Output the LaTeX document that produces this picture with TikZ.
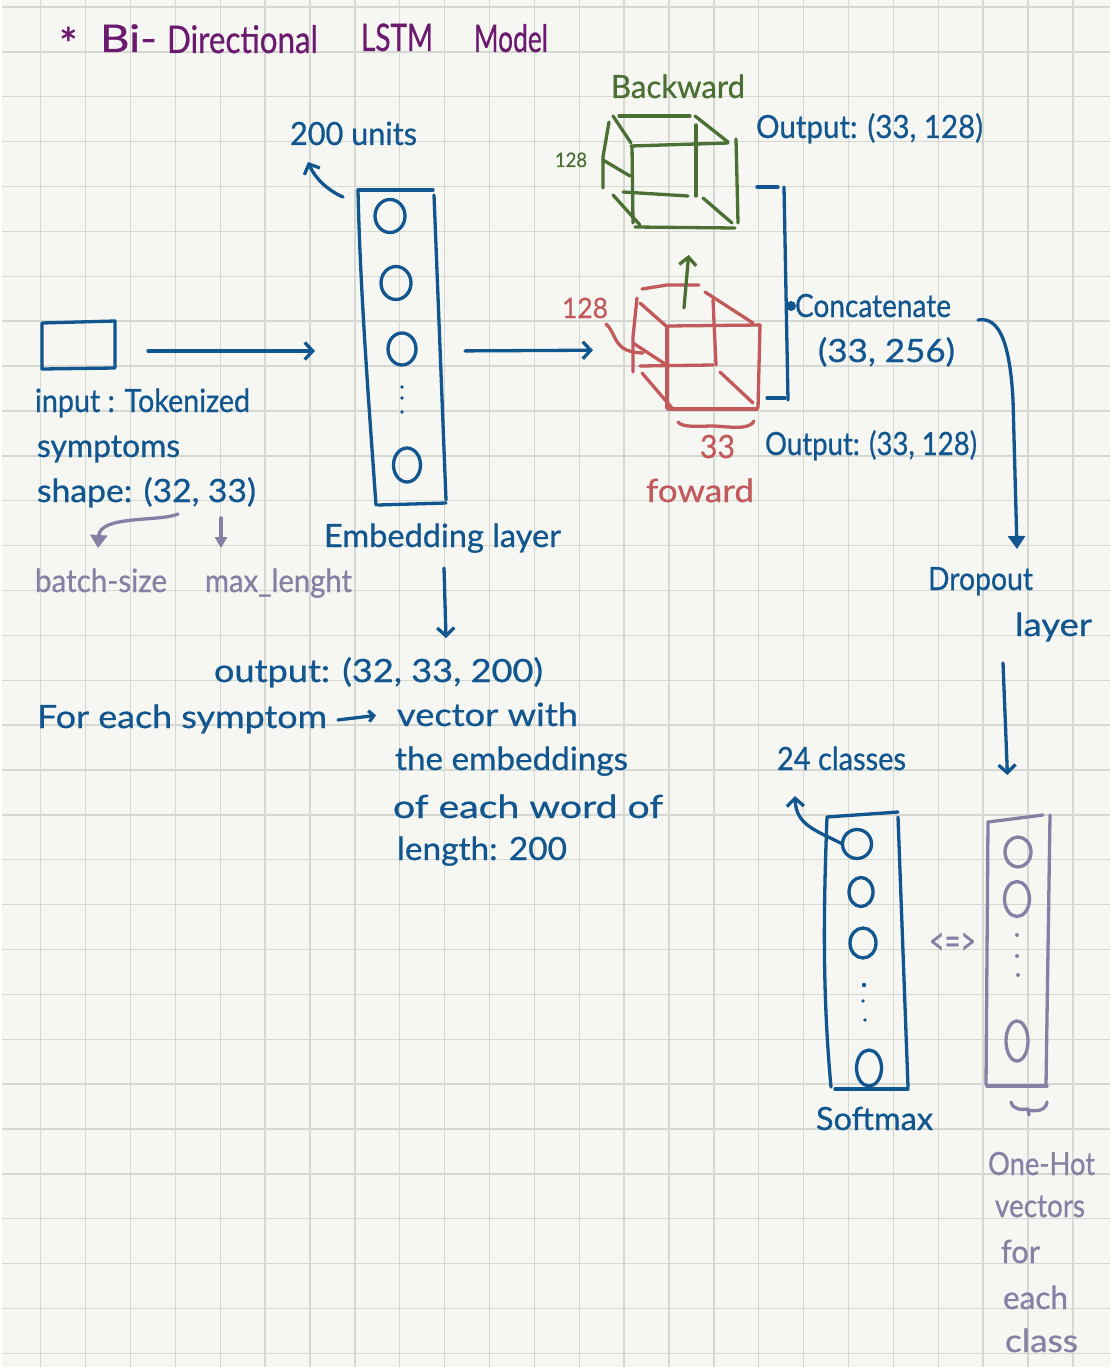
\documentclass[tikz,border=0pt]{standalone}
\usepackage{fontspec}
\usepackage{graphicx}
\setmainfont{Lato}[FakeBold=0.7]
\usetikzlibrary{arrows.meta,shapes.geometric,calc}
\definecolor{paper}{HTML}{F6F7F2}
\definecolor{gridc}{HTML}{D5D7D1}
\definecolor{inkb}{HTML}{11568F}
\definecolor{inkp}{HTML}{6B1A70}
\definecolor{inkg}{HTML}{4A7033}
\definecolor{inkr}{HTML}{C25A5C}
\definecolor{inkv}{HTML}{8581A5}
\newcommand{\rb}[2]{\resizebox{#1pt}{\height}{#2}}
\tikzset{
  gridline/.style={draw=gridc,line width=1.4pt},
  txt/.style={anchor=base west,inner sep=0pt,outer sep=0pt,font=\fontsize{32}{36}\selectfont,text=inkb},
  ttl/.style={txt,font=\fontsize{38}{42}\selectfont,text=inkp},
  gtxt/.style={txt,text=inkv},
  frame/.style={inner sep=0pt,outer sep=0pt},
  pen/.style={line width=3.3pt,line cap=round,line join=round},
  bl/.style={pen,draw=inkb},
  gr/.style={pen,draw=inkg},
  rd/.style={pen,draw=inkr},
  vi/.style={pen,draw=inkv},
  barb/.style={-{Straight Barb[length=8pt,width=17pt,line width=3.3pt]}},
  solidtip/.style={-{Triangle[length=13pt,width=17pt]}},
  neuron/.style={ellipse,inner sep=0pt,outer sep=0pt,line width=3.3pt},
}
\begin{document}
\begin{tikzpicture}[x=1pt,y=-1pt]
\useasboundingbox (0,0) rectangle (1110,1367);
\fill[white] (0,0) rectangle (1110,1367);
\fill[paper] (2,0) rectangle (1110,1367);
\foreach \k in {0,...,23} \draw[gridline] ({40.7+44.88*\k},0) -- ({40.7+44.88*\k},1367);
\foreach \k in {0,...,30} \draw[gridline] (2,{7+44.88*\k}) -- (1110,{7+44.88*\k});

% frames of the main blocks
\node[frame,minimum width=73pt,minimum height=48pt] (inp) at (78.5,346) {};
\node[frame,minimum width=88pt,minimum height=315pt] (emb) at (402,347.5) {};
\node[frame,minimum width=127pt,minimum height=124pt] (fwd) at (696.5,347) {};
\node[frame,minimum width=135pt,minimum height=112pt] (bwd) at (670.5,172) {};
\node[frame,minimum width=85pt,minimum height=277pt] (soft) at (866,951) {};
\node[frame,minimum width=64pt,minimum height=271pt] (oneh) at (1018,950.5) {};

% title
\node[ttl,font=\fontsize{44}{48}\selectfont] (star) at (59,60) {*};
\node[ttl] (tbi) at (100,52) {\rb{57}{Bi-}};
\node[ttl] (tdir) at (167,53) {\rb{151}{Directional}};
\node[ttl] (tlstm) at (361,51) {\rb{72}{LSTM}};
\node[ttl] (tmodel) at (474,52) {\rb{74}{Model}};

% input
\draw[bl] (42,323) -- (115,321) -- (115,368) -- (42,369) -- cycle;
\node[txt] (t1) at (35,412) {\rb{215}{input : Tokenized}};
\node[txt] (t2) at (37,457) {\rb{143}{symptoms}};
\node[txt] (t3) at (37,502) {\rb{219}{shape: (32, 33)}};
\node[gtxt] (bsz) at (35,592) {\rb{132}{batch-size}};
\node[gtxt] (mxl) at (205,592) {\rb{147}{max\_lenght}};
\coordinate (bszS) at (178,514);
\coordinate (bszE) at (98,548);
\coordinate (mxS) at (221,518);
\coordinate (mxE) at (221,548);
\draw[vi,solidtip] (bszS) .. controls (160,522) and (100,515) .. (bszE);
\draw[vi,-{Triangle[length=11pt,width=12pt]}] (mxS) -- (mxE);

% embedding layer
\draw[bl] (358,190) -- (433,190);
\draw[bl] (358,190) .. controls (360,290) and (370,420) .. (376,505);
\draw[bl] (434,195) -- (446,500);
\draw[bl] (378,505) -- (446,503);
\node[neuron,draw=inkb,minimum width=30pt,minimum height=33pt] (e1) at (390,216) {};
\node[neuron,draw=inkb,minimum width=30pt,minimum height=33pt] (e2) at (396,283) {};
\node[neuron,draw=inkb,minimum width=28pt,minimum height=32pt] (e3) at (402,349) {};
\fill[inkb] (402,387) circle (1.8) (402,398) circle (1.8) (402,412) circle (1.8);
\node[neuron,draw=inkb,minimum width=27pt,minimum height=34pt] (e4) at (407,465) {};
\node[txt] (units) at (290,145) {\rb{127}{200 units}};
\coordinate (unS) at (343,197);
\coordinate (unE) at (308,162);
\draw[bl,barb] (unS) .. controls (327,190) and (315,178) .. (unE);
\node[txt] (embl) at (324,547) {\rb{237}{Embedding layer}};
\node[txt] (outp) at (214,682) {\rb{329}{output: (32, 33, 200)}};
\node[txt] (fe) at (37,728) {\rb{290}{For each symptom}};
\node[txt] (vw) at (397,726) {\rb{181}{vector with}};
\node[txt] (te) at (395,770) {\rb{233}{the embeddings}};
\node[txt] (ew) at (393,818) {\rb{270}{of each word of}};
\node[txt] (lg) at (397,860) {\rb{170}{length: 200}};
\coordinate (eoS) at (444,568);
\coordinate (eoE) at (446,638);
\draw[bl,barb] (eoS) -- (eoE);
\draw[bl,-{Straight Barb[length=5pt,width=11pt,line width=3.3pt]}] ([xshift=11pt,yshift=-1pt]fe.east) -- ([xshift=-21pt,yshift=-1pt]vw.west);

% connectors into layers
\draw[bl,barb,shorten <=33pt,shorten >=43pt] ([yshift=-5pt]inp.east) -- ([yshift=-3.5pt]emb.west);
\draw[bl,barb,shorten <=19pt,shorten >=40pt] ([yshift=-3.5pt]emb.east) -- ([yshift=-3pt]fwd.west);

% forward cube
\draw[rd] (642,289) -- (667,285) -- (699,285);
\draw[rd] (640,303) -- (666,326);
\draw[rd] (705,292) -- (753,323);
\draw[rd] (668,326) -- (760,325) -- (758,408);
\draw[rd] (668,409) -- (757,409);
\draw[rd] (667,327) -- (667,408);
\draw[rd] (637,298) -- (633,337) -- (633,372);
\draw[rd] (713,300) -- (716,365);
\draw[rd] (640,366) -- (713,365);
\draw[rd] (633,343) -- (665,364);
\draw[rd] (642,373) -- (672,408);
\draw[rd] (720,372) -- (753,403);
\draw[rd] (678,422) .. controls (682,428) and (700,426) .. (714,426) .. controls (730,427) and (750,430) .. (754,421);
\node[txt,text=inkr,font=\fontsize{28}{32}\selectfont] (r128) at (562,318) {\rb{46}{128}};
\draw[rd] (606,324) .. controls (618,335) and (612,352) .. (643,353);
\node[txt,text=inkr] (r33) at (700,458) {\rb{35}{33}};
\node[txt,text=inkr] (fwdl) at (646,502) {\rb{108}{foward}};
\node[txt] (ofw) at (765,455) {\rb{212}{Output: (33, 128)}};

% backward cube
\draw[gr] (619,116) -- (690,116);
\draw[gr] (613,116) -- (631,143);
\draw[gr] (695,116) -- (728,142);
\draw[gr] (631,146) -- (728,143);
\draw[gr] (736,139) -- (738,223);
\draw[gr] (632,146) -- (633,223);
\draw[gr] (635,227) -- (735,228);
\draw[gr] (609,122) -- (603,157) -- (603,188);
\draw[gr] (696,125) -- (696,196);
\draw[gr] (623,192) -- (688,196);
\draw[gr] (603,160) -- (630,176);
\draw[gr] (613,195) -- (640,225);
\draw[gr] (703,198) -- (732,223);
\node[txt,text=inkg] (bwdl) at (611,98) {\rb{134}{Backward}};
\node[txt,text=inkg,font=\fontsize{20}{24}\selectfont] (g128) at (555,167) {\rb{32}{128}};
\node[txt] (obw) at (756,138) {\rb{227}{Output: (33, 128)}};
\draw[gr,barb,shorten <=-23pt,shorten >=27pt] ([xshift=-10.5pt]fwd.north) -- ([xshift=20.5pt]bwd.south);

% concatenate
\draw[bl] (757,187) -- (778,187);
\draw[bl] (784,187) -- (788,400);
\draw[bl] (767,398) -- (785,398);
\fill[inkb] (791,306) circle (5);
\node[txt] (conc) at (795,317) {\rb{156}{Concatenate}};
\node[txt] (c2) at (818,362) {\rb{137}{(33, 256)}};
\coordinate (coS) at (978,320);
\coordinate (coE) at (1017,549);
\draw[bl,solidtip] (coS) .. controls (1000,316) and (1010,345) .. (1013,400) -- (coE);

% dropout
\node[txt] (drop) at (928,590) {\rb{105}{Dropout}};
\node[txt] (lay) at (1015,636) {\rb{77}{layer}};
\coordinate (dpS) at (1003,663);
\draw[bl,barb,shorten >=40pt] (dpS) -- ([xshift=-9pt]oneh.north);

% softmax
\draw[bl] (827,817) -- (898,812);
\draw[bl] (827,817) .. controls (823,920) and (823,1000) .. (831,1087);
\draw[bl] (898,817) -- (908,1087);
\draw[bl] (835,1089) -- (908,1089);
\node[neuron,draw=inkb,minimum width=29pt,minimum height=29pt] (s1) at (857,844) {};
\node[neuron,draw=inkb,minimum width=24pt,minimum height=29pt] (s2) at (861,892) {};
\node[neuron,draw=inkb,minimum width=26pt,minimum height=30pt] (s3) at (863,943) {};
\fill[inkb] (864,985) circle (2.2) (863,1001) circle (1.8) (865,1020) circle (1.8);
\node[neuron,draw=inkb,minimum width=25pt,minimum height=36pt] (s4) at (869,1068) {};
\node[txt] (c24) at (777,770) {\rb{129}{24 classes}};
\coordinate (cE) at (795,796);
\draw[bl,barb] (s1.west) .. controls (815,830) and (796,825) .. (cE);
\node[txt] (sm) at (816,1130) {\rb{117}{Softmax}};
\node[gtxt,font=\fontsize{40}{44}\selectfont] (eq) at (929,955) {\rb{47}{<=>}};

% one-hot layer
\draw[vi] (988,822) -- (1043,815);
\draw[vi] (988,822) -- (986,1085);
\draw[vi] (1050,815) -- (1046,1085);
\draw[vi] (987,1086) -- (1047,1086);
\node[neuron,draw=inkv,minimum width=26pt,minimum height=30pt] (o1) at (1018,852) {};
\node[neuron,draw=inkv,minimum width=25pt,minimum height=35pt] (o2) at (1017,899) {};
\fill[inkv] (1017,935) circle (2) (1017,956) circle (2) (1018,975) circle (2);
\node[neuron,draw=inkv,minimum width=22pt,minimum height=40pt] (o3) at (1017,1041) {};
\draw[vi] (1011,1102) .. controls (1013,1110) and (1022,1110) .. (1028,1109) -- (1029,1115) (1028,1110) .. controls (1038,1112) and (1046,1110) .. (1047,1102);
\node[gtxt] (oh1) at (988,1175) {\rb{107}{One-Hot}};
\node[gtxt] (oh2) at (995,1217) {\rb{90}{vectors}};
\node[gtxt] (oh3) at (1001,1263) {\rb{39}{for}};
\node[gtxt] (oh4) at (1003,1309) {\rb{65}{each}};
\node[gtxt] (oh5) at (1005,1352) {\rb{73}{class}};
\end{tikzpicture}
\end{document}
